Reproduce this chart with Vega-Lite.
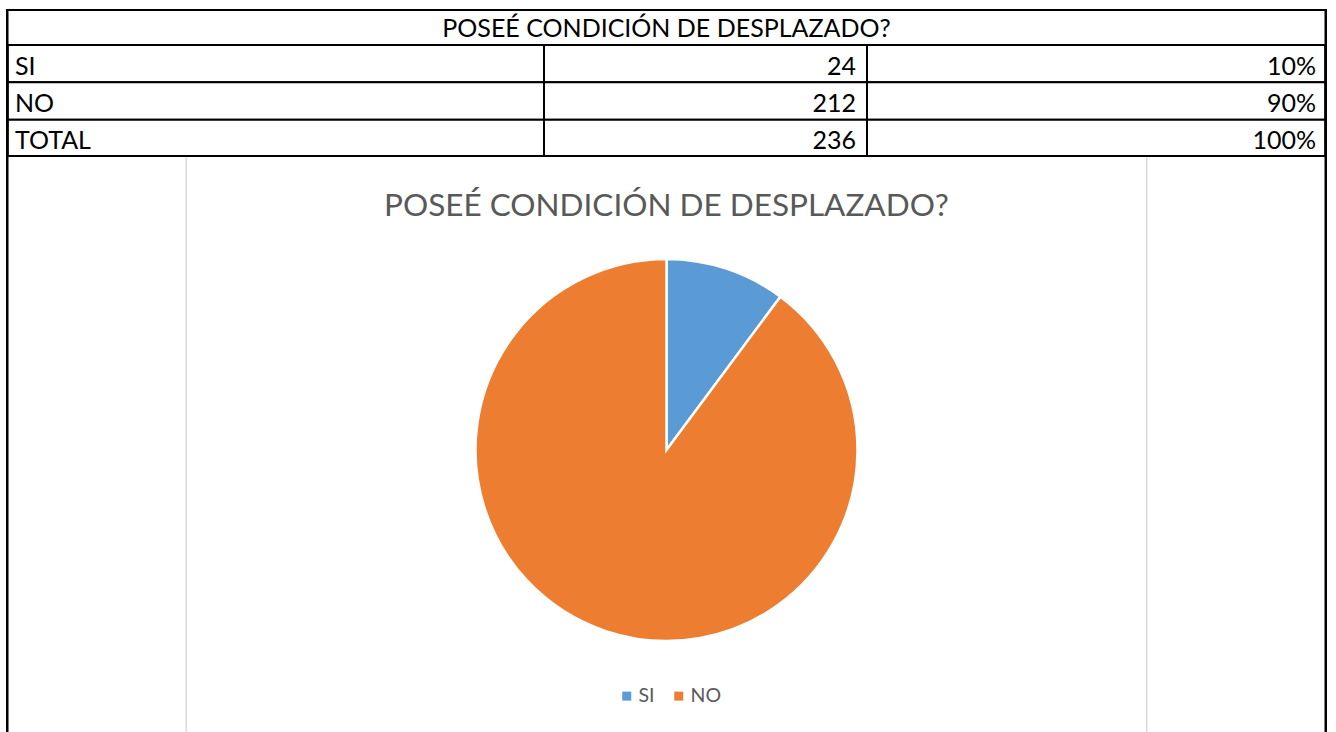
{
  "$schema": "https://vega.github.io/schema/vega-lite/v6.json",
  "padding": {"left": 6, "top": 9, "right": 0, "bottom": 0},
  "autosize": {"type": "pad"},
  "background": "white",
  "config": {"view": {"stroke": null}, "concat": {"spacing": 0}, "font": "Lato"},
  "datasets": {
    "tabla": [
      {"cat": "SI", "n": 24, "pct": "10%"},
      {"cat": "NO", "n": 212, "pct": "90%"},
      {"cat": "TOTAL", "n": 236, "pct": "100%"}
    ],
    "encabezado": [{"titulo": "POSEÉ CONDICIÓN DE DESPLAZADO?"}],
    "borde": [{"lado": "borde"}]
  },
  "spacing": 0,
  "vconcat": [
    {
      "width": 1321, "height": 36,
      "data": {"name": "encabezado"},
      "layer": [
        {"mark": {"type": "rect", "fill": "white", "stroke": "black", "strokeWidth": 2, "clip": true},
         "encoding": {"x": {"value": 0}, "x2": {"value": "width"}, "y": {"value": 0}, "y2": {"value": "height"}}},
        {"mark": {"type": "rule", "color": "black", "strokeWidth": 4, "clip": true},
         "encoding": {"x": {"value": 0}, "x2": {"value": "width"}, "y": {"value": 0}}},
        {"mark": {"type": "rule", "color": "black", "strokeWidth": 5, "clip": true},
         "encoding": {"x": {"value": 0}, "y": {"value": 0}, "y2": {"value": "height"}}},
        {"mark": {"type": "rule", "color": "black", "strokeWidth": 5, "clip": true},
         "encoding": {"x": {"value": "width"}, "y": {"value": 0}, "y2": {"value": "height"}}},
        {"mark": {"type": "text", "fontSize": 25, "color": "black", "baseline": "middle", "dy": 2},
         "encoding": {"text": {"field": "titulo"}}}
      ]
    },
    {
      "spacing": 0,
      "hconcat": [
        {
          "width": 538, "height": 112, "data": {"name": "tabla"},
          "encoding": {"y": {"field": "cat", "type": "nominal", "sort": ["SI", "NO", "TOTAL"], "axis": null, "scale": {"paddingInner": 0, "paddingOuter": 0}}},
          "layer": [
            {"mark": {"type": "rect", "fill": "white", "stroke": "black", "strokeWidth": 2, "clip": true},
             "encoding": {"x": {"value": 0}, "x2": {"value": "width"}}},
            {"mark": {"type": "rule", "color": "black", "strokeWidth": 5, "clip": true},
             "encoding": {"x": {"value": 0}, "y": {"value": 0}, "y2": {"value": "height"}}},
            {"mark": {"type": "rule", "color": "black", "strokeWidth": 4, "clip": true},
             "encoding": {"x": {"value": 0}, "x2": {"value": "width"}, "y": {"value": "height"}}},
            {"mark": {"type": "text", "align": "left", "baseline": "middle", "fontSize": 25, "color": "black", "dx": 9, "dy": 3},
             "encoding": {"x": {"value": 0}, "text": {"field": "cat"}}}
          ]
        },
        {
          "width": 323, "height": 112, "data": {"name": "tabla"},
          "encoding": {"y": {"field": "cat", "type": "nominal", "sort": ["SI", "NO", "TOTAL"], "axis": null, "scale": {"paddingInner": 0, "paddingOuter": 0}}},
          "layer": [
            {"mark": {"type": "rect", "fill": "white", "stroke": "black", "strokeWidth": 2, "clip": true},
             "encoding": {"x": {"value": 0}, "x2": {"value": "width"}}},
            {"mark": {"type": "rule", "color": "black", "strokeWidth": 4, "clip": true},
             "encoding": {"x": {"value": 0}, "x2": {"value": "width"}, "y": {"value": "height"}}},
            {"mark": {"type": "text", "align": "right", "baseline": "middle", "fontSize": 25, "color": "black", "dx": -11, "dy": 3},
             "encoding": {"x": {"value": "width"}, "text": {"field": "n", "type": "quantitative"}}}
          ]
        },
        {
          "width": 460, "height": 112, "data": {"name": "tabla"},
          "encoding": {"y": {"field": "cat", "type": "nominal", "sort": ["SI", "NO", "TOTAL"], "axis": null, "scale": {"paddingInner": 0, "paddingOuter": 0}}},
          "layer": [
            {"mark": {"type": "rect", "fill": "white", "stroke": "black", "strokeWidth": 2, "clip": true},
             "encoding": {"x": {"value": 0}, "x2": {"value": "width"}}},
            {"mark": {"type": "rule", "color": "black", "strokeWidth": 5, "clip": true},
             "encoding": {"x": {"value": "width"}, "y": {"value": 0}, "y2": {"value": "height"}}},
            {"mark": {"type": "rule", "color": "black", "strokeWidth": 4, "clip": true},
             "encoding": {"x": {"value": 0}, "x2": {"value": "width"}, "y": {"value": "height"}}},
            {"mark": {"type": "text", "align": "right", "baseline": "middle", "fontSize": 25, "color": "black", "dx": -11, "dy": 3},
             "encoding": {"x": {"value": "width"}, "text": {"field": "pct"}}}
          ]
        }
      ]
    },
    {
      "spacing": 0,
      "hconcat": [
        {
          "width": 181, "height": 575, "data": {"name": "borde"},
          "layer": [
            {"mark": {"type": "rule", "color": "black", "strokeWidth": 5, "clip": true},
             "encoding": {"x": {"value": 0}, "y": {"value": 0}, "y2": {"value": "height"}}},
            {"mark": {"type": "rule", "color": "#d9d9d9", "strokeWidth": 3, "clip": true},
             "encoding": {"x": {"value": "width"}, "y": {"value": 0}, "y2": {"value": "height"}}}
          ]
        },
        {
          "spacing": 0,
          "vconcat": [
            {
              "width": 959, "height": 94, "data": {"name": "encabezado"},
              "mark": {"type": "text", "fontSize": 31.5, "color": "#595959", "baseline": "middle", "dy": 3},
              "encoding": {"text": {"field": "titulo"}}
            },
            {
              "width": 959, "height": 398, "data": {"name": "tabla"},
              "transform": [{"filter": "datum.cat !== 'TOTAL'"}],
              "mark": {"type": "arc", "outerRadius": 191, "stroke": "white", "strokeWidth": 2.5},
              "encoding": {
                "theta": {"field": "n", "type": "quantitative", "stack": true},
                "order": {"field": "cat", "sort": "descending"},
                "color": {
                  "field": "cat", "type": "nominal",
                  "scale": {"domain": ["SI", "NO"], "range": ["#5B9BD5", "#ED7D31"]},
                  "legend": {
                    "orient": "none", "legendX": 611, "legendY": 677, "direction": "horizontal",
                    "title": null, "symbolType": "square", "symbolSize": 81, "symbolStrokeWidth": 0,
                    "labelFontSize": 19.5, "labelColor": "#595959", "labelFont": "Lato",
                    "labelOffset": 2, "columnPadding": 14, "padding": 0
                  }
                }
              }
            }
          ]
        },
        {
          "width": 181, "height": 575, "data": {"name": "borde"},
          "layer": [
            {"mark": {"type": "rule", "color": "#d9d9d9", "strokeWidth": 3, "clip": true},
             "encoding": {"x": {"value": 0}, "y": {"value": 0}, "y2": {"value": "height"}}},
            {"mark": {"type": "rule", "color": "black", "strokeWidth": 5, "clip": true},
             "encoding": {"x": {"value": "width"}, "y": {"value": 0}, "y2": {"value": "height"}}}
          ]
        }
      ]
    }
  ]
}
